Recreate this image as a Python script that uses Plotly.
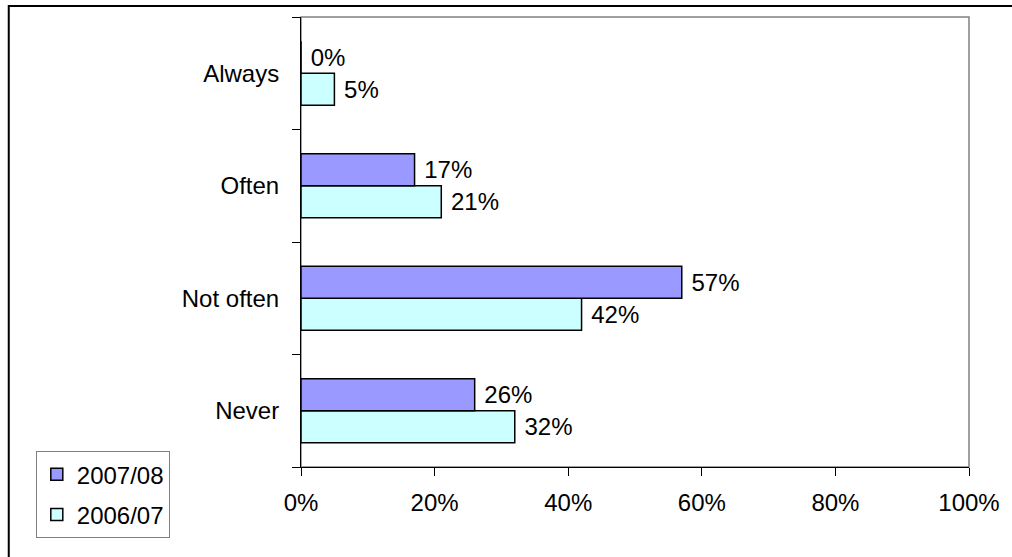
import plotly.graph_objects as go

# Survey responses by year (share of respondents)
categories = ["Never", "Not often", "Often", "Always"]
values_2006_07 = [0.32, 0.42, 0.21, 0.05]
values_2007_08 = [0.26, 0.57, 0.17, 0.00]
x_ticks = [0, 0.2, 0.4, 0.6, 0.8, 1.0]
x_tick_labels = ["0%", "20%", "40%", "60%", "80%", "100%"]

FONT = "Liberation Sans, Arial, sans-serif"
NBSP = "\u00a0"


def pct_labels(values):
    return [f"{NBSP}{v:.0%}" for v in values]


fig = go.Figure()
fig.add_trace(go.Bar(
    name="2006/07", y=categories, x=values_2006_07, orientation="h",
    legendgroup="a", legendrank=2,
    marker=dict(color="#CCFFFF", line=dict(color="black", width=1.5)),
    text=pct_labels(values_2006_07), textposition="outside",
    textfont=dict(size=24, color="black"), cliponaxis=False,
))
fig.add_trace(go.Bar(
    name="2007/08", y=categories, x=values_2007_08, orientation="h",
    legendgroup="b", legendrank=1,
    marker=dict(color="#9999FF", line=dict(color="black", width=1.5)),
    text=pct_labels(values_2007_08), textposition="outside",
    textfont=dict(size=24, color="black"), cliponaxis=False,
))

fig.update_layout(
    width=1012, height=557,
    margin=dict(l=301, r=41, t=17, b=90),
    paper_bgcolor="white", plot_bgcolor="white",
    font=dict(family=FONT, size=24, color="black"),
    barmode="group", bargap=0.43, bargroupgap=0,
    showlegend=True,
    legend=dict(
        x=-0.397, y=-0.158, xanchor="left", yanchor="bottom",
        traceorder="grouped", tracegroupgap=6,
        bordercolor="#808080", borderwidth=1,
        bgcolor="white", font=dict(size=24),
    ),
    xaxis=dict(
        range=[0, 1], tickvals=x_ticks, ticktext=x_tick_labels,
        showgrid=False, zeroline=False, showline=True, linecolor="black",
        linewidth=1, ticks="outside", ticklen=8, tickcolor="black",
        ticklabelstandoff=6,
    ),
    yaxis=dict(
        categoryorder="array", categoryarray=categories,
        showgrid=False, zeroline=False, showline=True, linecolor="black",
        linewidth=1, ticks="outside", ticklen=8, tickcolor="black",
        tickson="boundaries", ticklabelstandoff=16,
    ),
    shapes=[
        # plot area frame
        dict(type="rect", xref="paper", yref="paper", x0=0, x1=1, y0=0, y1=1,
             line=dict(color="#808080", width=1.5), layer="below"),
        # outer chart border
        dict(type="rect", xref="paper", yref="paper", x0=-0.4375, x1=1.2,
             y0=-0.5, y1=1.0244, line=dict(color="black", width=2)),
    ],
)

fig.write_html("out.html")
